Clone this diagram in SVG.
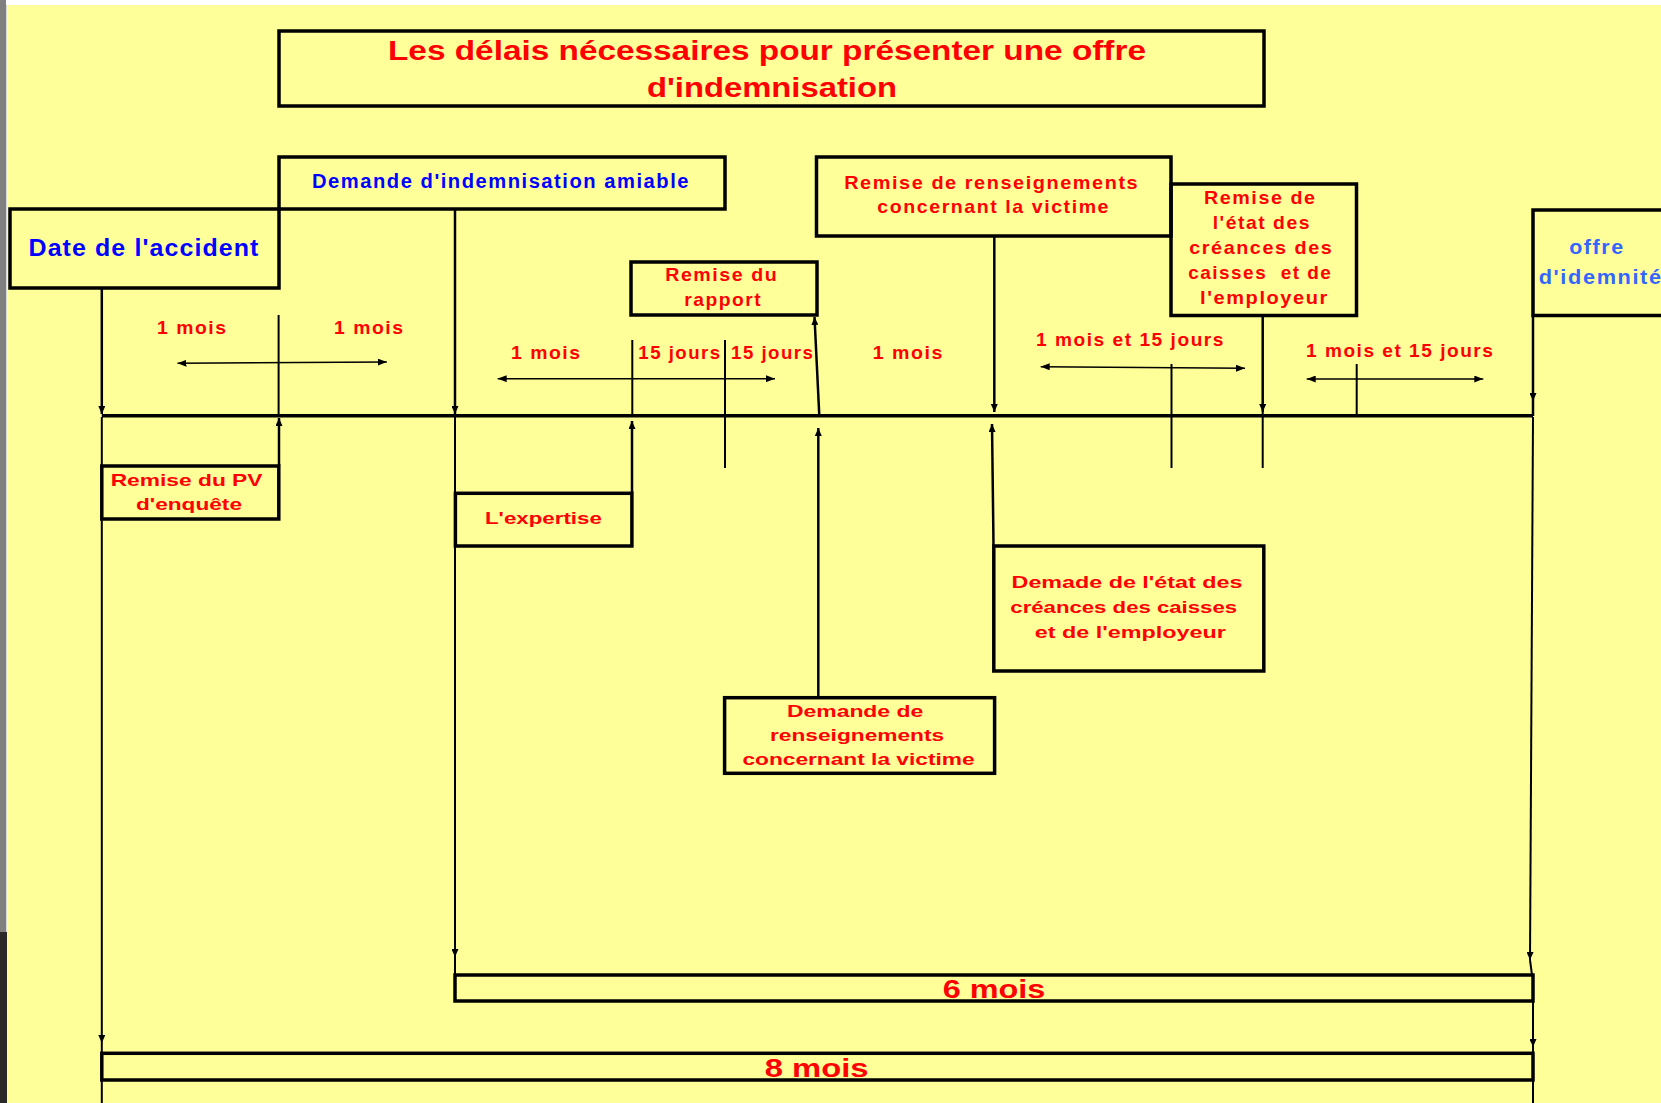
<svg xmlns="http://www.w3.org/2000/svg" width="1661" height="1103" viewBox="0 0 1661 1103">
<style>
.box{fill:none;stroke:#000;stroke-width:3.5}
.t{font-family:"Liberation Sans",Arial,sans-serif;font-weight:bold;text-anchor:middle}
.red{fill:#FF0000}
.blue{fill:#0000FF}
.lblue{fill:#3366FF}
.a{font-size:19px;letter-spacing:1.5px}
.b{font-size:17px}
.c{stroke:#000;stroke-width:2.5;fill:none}
.cb{stroke:#000;stroke-width:2;fill:none}
.tk{stroke:#000;stroke-width:2;fill:none}
.da{stroke:#000;stroke-width:1.5;fill:none}
</style>
<defs>
<marker id="ah" viewBox="0 0 8 7" refX="8" refY="3.5" markerWidth="8" markerHeight="7" markerUnits="userSpaceOnUse" orient="auto">
<path d="M0,0 L8,3.5 L0,7 z" fill="#000"/>
</marker>
<marker id="ad" viewBox="0 0 9 7" refX="9" refY="3.5" markerWidth="9" markerHeight="7" markerUnits="userSpaceOnUse" orient="auto-start-reverse">
<path d="M0,0 L9,3.5 L0,7 z" fill="#000"/>
</marker>
</defs>
<rect x="0" y="0" width="1661" height="1103" fill="#FFFF99"/>
<rect x="0" y="0" width="1661" height="5" fill="#FFFFFF"/>
<rect x="0" y="0" width="6" height="932" fill="#808080"/>
<rect x="0" y="932" width="7" height="171" fill="#2a2a2a"/>
<line x1="6.5" y1="5" x2="6.5" y2="932" stroke="#d8d8d8" stroke-width="1"/>

<g id="title">
<rect class="box" x="279" y="31" width="985" height="75"/>
<text class="t red" font-size="27" x="767" y="60" textLength="758" lengthAdjust="spacingAndGlyphs">Les délais nécessaires pour présenter une offre</text>
<text class="t red" font-size="27" x="772" y="96.5" textLength="250" lengthAdjust="spacingAndGlyphs">d'indemnisation</text>
</g>

<g id="date-accident">
<rect class="box" x="10" y="209" width="269" height="79"/>
<text class="t blue" font-size="23" letter-spacing="1" x="144" y="256" textLength="231" lengthAdjust="spacingAndGlyphs">Date de l'accident</text>
</g>

<g id="demande-indemnisation">
<rect class="box" x="279" y="157" width="446" height="52"/>
<text class="t blue" font-size="20" letter-spacing="1.5" x="501" y="188.3" textLength="378" lengthAdjust="spacingAndGlyphs">Demande d'indemnisation amiable</text>
</g>

<g id="remise-rapport">
<rect class="box" x="631" y="262" width="186" height="53"/>
<text class="t red a" x="721.7" y="281" textLength="113" lengthAdjust="spacingAndGlyphs">Remise du</text>
<text class="t red a" x="723.2" y="305.7" textLength="78" lengthAdjust="spacingAndGlyphs">rapport</text>
</g>

<g id="remise-renseignements">
<rect class="box" x="816.5" y="157" width="354.5" height="79"/>
<text class="t red a" x="991.7" y="189.3" textLength="295" lengthAdjust="spacingAndGlyphs">Remise de renseignements</text>
<text class="t red a" x="993.7" y="213.3" textLength="232.7" lengthAdjust="spacingAndGlyphs">concernant la victime</text>
</g>

<g id="remise-etat">
<rect class="box" x="1171" y="184" width="185.5" height="131.5"/>
<text class="t red a" x="1260.3" y="204" textLength="112.7" lengthAdjust="spacingAndGlyphs">Remise de</text>
<text class="t red a" x="1261.8" y="229" textLength="98.3" lengthAdjust="spacingAndGlyphs">l'état des</text>
<text class="t red a" x="1261.3" y="254" textLength="144" lengthAdjust="spacingAndGlyphs">créances des</text>
<text class="t red a" x="1260.3" y="279" textLength="144" lengthAdjust="spacingAndGlyphs" xml:space="preserve">caisses  et de</text>
<text class="t red a" x="1264.5" y="303.5" textLength="129" lengthAdjust="spacingAndGlyphs">l'employeur</text>
</g>

<g id="offre">
<rect class="box" x="1533" y="210" width="140" height="105.5"/>
<text class="t lblue" font-size="20" letter-spacing="1.5" x="1597" y="254" textLength="55.7" lengthAdjust="spacingAndGlyphs">offre</text>
<text class="t lblue" font-size="20" letter-spacing="1.5" x="1538.7" y="284" style="text-anchor:start" textLength="124" lengthAdjust="spacingAndGlyphs">d'idemnité</text>
</g>

<g id="remise-pv">
<rect class="box" x="101.8" y="466" width="177" height="53"/>
<text class="t red b" x="186.6" y="486" textLength="151.8" lengthAdjust="spacingAndGlyphs">Remise du PV</text>
<text class="t red b" x="189" y="510" textLength="106" lengthAdjust="spacingAndGlyphs">d'enquête</text>
</g>

<g id="expertise">
<rect class="box" x="455.4" y="493.3" width="176.5" height="52.7"/>
<text class="t red b" x="543.4" y="524" textLength="116.8" lengthAdjust="spacingAndGlyphs">L'expertise</text>
</g>

<g id="demande-renseignements">
<rect class="box" x="724.6" y="697.7" width="270" height="75.6"/>
<text class="t red b" x="855.1" y="716.7" textLength="136.2" lengthAdjust="spacingAndGlyphs">Demande de</text>
<text class="t red b" x="857.1" y="741" textLength="174.2" lengthAdjust="spacingAndGlyphs">renseignements</text>
<text class="t red b" x="858.5" y="765" textLength="232.2" lengthAdjust="spacingAndGlyphs">concernant la victime</text>
</g>

<g id="demande-etat">
<rect class="box" x="993.8" y="546" width="270" height="125"/>
<text class="t red b" x="1127" y="588.3" textLength="230.8" lengthAdjust="spacingAndGlyphs">Demade de l'état des</text>
<text class="t red b" x="1123.7" y="613.3" textLength="226.8" lengthAdjust="spacingAndGlyphs">créances des caisses</text>
<text class="t red b" x="1130.4" y="638.3" textLength="191.1" lengthAdjust="spacingAndGlyphs">et de l'employeur</text>
</g>

<g id="six-mois">
<rect class="box" x="455" y="975" width="1078" height="26" stroke-width="3.3"/>
<text class="t red" font-size="25.5" x="994" y="998.3" textLength="102.7" lengthAdjust="spacingAndGlyphs">6 mois</text>
</g>

<g id="huit-mois">
<rect class="box" x="101.8" y="1053.3" width="1431.2" height="26.7" stroke-width="3.3"/>
<text class="t red" font-size="25.5" x="816.7" y="1076.7" textLength="103.8" lengthAdjust="spacingAndGlyphs">8 mois</text>
</g>

<g id="durations">
<text class="t red a" x="192.3" y="334" textLength="70.5" lengthAdjust="spacingAndGlyphs">1 mois</text>
<text class="t red a" x="369.3" y="334" textLength="70.6" lengthAdjust="spacingAndGlyphs">1 mois</text>
<text class="t red a" x="546.3" y="359.3" textLength="70.7" lengthAdjust="spacingAndGlyphs">1 mois</text>
<text class="t red a" x="680" y="359.3" textLength="83.3" lengthAdjust="spacingAndGlyphs">15 jours</text>
<text class="t red a" x="772.7" y="359.3" textLength="83.3" lengthAdjust="spacingAndGlyphs">15 jours</text>
<text class="t red a" x="908.3" y="359.3" textLength="71.3" lengthAdjust="spacingAndGlyphs">1 mois</text>
<text class="t red a" x="1130.5" y="346" textLength="189" lengthAdjust="spacingAndGlyphs">1 mois et 15 jours</text>
<text class="t red a" x="1400.2" y="356.7" textLength="188.3" lengthAdjust="spacingAndGlyphs">1 mois et 15 jours</text>
</g>

<g id="connectors">
<line x1="101.8" y1="415.7" x2="1533" y2="415.7" stroke="#000" stroke-width="3.5"/>
<line class="c" x1="101.8" y1="288" x2="101.8" y2="414" marker-end="url(#ah)"/>
<line class="c" x1="455" y1="210" x2="455" y2="414" marker-end="url(#ah)"/>
<line class="c" x1="994.3" y1="236" x2="994.3" y2="412" marker-end="url(#ah)"/>
<line class="c" x1="1262.7" y1="315" x2="1262.7" y2="412" marker-end="url(#ah)"/>
<line class="tk" x1="1262.7" y1="412" x2="1262.7" y2="468"/>
<line class="c" x1="1533" y1="315" x2="1533" y2="401" marker-end="url(#ah)"/>
<line class="c" x1="1533" y1="401" x2="1533" y2="416"/>
<line class="c" x1="819.3" y1="415.7" x2="814.5" y2="317" marker-end="url(#ah)"/>
<line class="c" x1="279" y1="466" x2="279" y2="418" marker-end="url(#ah)"/>
<line class="c" x1="632" y1="493" x2="632" y2="421" marker-end="url(#ah)"/>
<line class="c" x1="818.3" y1="697" x2="818.3" y2="428" marker-end="url(#ah)"/>
<line class="c" x1="993.5" y1="545" x2="992" y2="424" marker-end="url(#ah)"/>
<line class="tk" x1="278.6" y1="315" x2="278.6" y2="415"/>
<line class="tk" x1="632.3" y1="340" x2="632.3" y2="415"/>
<line class="tk" x1="725" y1="340" x2="725" y2="468"/>
<line class="tk" x1="1171.5" y1="364" x2="1171.5" y2="468"/>
<line class="tk" x1="1356.7" y1="364" x2="1356.7" y2="415"/>
<line class="da" x1="177.5" y1="363.3" x2="386.8" y2="362" marker-start="url(#ad)" marker-end="url(#ad)"/>
<line class="da" x1="497.7" y1="378.7" x2="775" y2="378.7" marker-start="url(#ad)" marker-end="url(#ad)"/>
<line class="da" x1="1040.7" y1="366.7" x2="1245" y2="368.3" marker-start="url(#ad)" marker-end="url(#ad)"/>
<line class="da" x1="1306.7" y1="379" x2="1483.3" y2="379" marker-start="url(#ad)" marker-end="url(#ad)"/>
<line class="cb" x1="101.8" y1="417" x2="101.8" y2="1043" marker-end="url(#ah)"/>
<line class="cb" x1="101.8" y1="1043" x2="101.8" y2="1053"/>
<line class="cb" x1="101.8" y1="1080" x2="101.8" y2="1103"/>
<line class="cb" x1="455" y1="417" x2="455" y2="957" marker-end="url(#ah)"/>
<line class="cb" x1="455" y1="957" x2="455" y2="975"/>
<line class="cb" x1="1533" y1="417" x2="1530" y2="960" marker-end="url(#ah)"/>
<line class="cb" x1="1530" y1="960" x2="1532" y2="975"/>
<line class="cb" x1="1533" y1="1001" x2="1533" y2="1047" marker-end="url(#ah)"/>
<line class="cb" x1="1533" y1="1047" x2="1533" y2="1053"/>
<line class="cb" x1="1533" y1="1080" x2="1533" y2="1103"/>
</g>
</svg>
